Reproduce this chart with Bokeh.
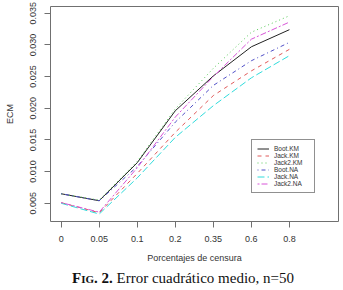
from bokeh.plotting import figure
from bokeh.models import Range1d, FixedTicker, Legend, LegendItem, Div
from bokeh.layouts import column
from bokeh.embed import file_html
from bokeh.resources import INLINE

cats = ["0", "0.05", "0.1", "0.2", "0.35", "0.6", "0.8"]
boot_km = [0.0065, 0.0054, 0.0114, 0.0196, 0.0251, 0.0297, 0.0324]
jack_km = [0.0051, 0.0035, 0.0097, 0.0162, 0.0220, 0.0259, 0.0293]
jack2_km = [0.0065, 0.0055, 0.0116, 0.0199, 0.0263, 0.0320, 0.0346]
boot_na = [0.0065, 0.0054, 0.0108, 0.0178, 0.0236, 0.0275, 0.0304]
jack_na = [0.0050, 0.0033, 0.0090, 0.0154, 0.0204, 0.0248, 0.0283]
jack2_na = [0.0051, 0.0036, 0.0106, 0.0186, 0.0250, 0.0309, 0.0336]
y_ticks = [0.005, 0.010, 0.015, 0.020, 0.025, 0.030, 0.035]

names = ["Boot.KM", "Jack.KM", "Jack2.KM", "Boot.NA", "Jack.NA", "Jack2.NA"]
series = [boot_km, jack_km, jack2_km, boot_na, jack_na, jack2_na]
colors = ["#222222", "#e05a5a", "#55c855", "#5050c8", "#30dcdc", "#d855d8"]
dashes = ["solid", "4 4", "1 3", "1 3 4 3", "7 3", "2 2 6 2"]

xs = list(range(len(cats)))

p = figure(width=343, height=268, output_backend="svg", toolbar_location=None,
           x_range=Range1d(-0.28, 7.29), y_range=Range1d(0.00212, 0.03606),
           min_border_left=50, min_border_right=5, min_border_top=6,
           min_border_bottom=47, background_fill_color="white",
           border_fill_color="white")
p.grid.visible = False
p.outline_line_color = "#707070"
p.outline_line_width = 1

axfont = "Liberation Sans"
for ax in (p.xaxis[0], p.yaxis[0]):
    ax.axis_line_color = None
    ax.major_tick_line_color = "#707070"
    ax.major_tick_out = 6
    ax.major_tick_in = 0
    ax.minor_tick_line_color = None
    ax.major_label_text_font = axfont
    ax.major_label_text_font_size = "9px"
    ax.major_label_text_color = "#333333"
    ax.axis_label_text_font = axfont
    ax.axis_label_text_font_size = "9px"
    ax.axis_label_text_font_style = "normal"
    ax.axis_label_text_color = "#333333"
    ax.major_label_standoff = 8

p.xaxis.ticker = FixedTicker(ticks=xs)
p.xaxis.major_label_overrides = {i: c for i, c in enumerate(cats)}
p.xaxis.axis_label = "Porcentajes de censura"
p.xaxis.axis_label_standoff = 8

p.yaxis.ticker = FixedTicker(ticks=y_ticks)
p.yaxis.major_label_overrides = {t: f"{t:.3f}" for t in y_ticks}
p.yaxis.major_label_orientation = "vertical"
p.yaxis.axis_label = "ECM"
p.yaxis.axis_label_standoff = 13

items = []
for name, vals, col, dash in zip(names, series, colors, dashes):
    r = p.line(xs, vals, line_color=col, line_width=1, line_dash=dash)
    items.append(LegendItem(label=name, renderers=[r]))

legend = Legend(items=items, location=(201, 28), padding=5, spacing=0,
                label_height=7, glyph_height=7, glyph_width=12,
                label_standoff=5, label_width=35, margin=0,
                label_text_font=axfont, label_text_font_size="6.5px",
                label_text_color="#333333",
                border_line_color="#222222", border_line_width=1,
                background_fill_alpha=1.0)
p.add_layout(legend, "center")

caption = Div(
    text='<span style="font-weight:bold;font-variant:small-caps;">Fig. 2.</span> '
         'Error cuadrático medio, n=50',
    width=343, height=22, margin=(0, 0, 0, 0),
    styles={"font-family": "'Liberation Serif', serif", "font-size": "15px",
            "color": "#111111", "padding-left": "72px", "padding-top": "1px",
            "line-height": "18px", "white-space": "nowrap"})

layout = column(p, caption, spacing=0)
open("out.html", "w").write(file_html(layout, INLINE))
